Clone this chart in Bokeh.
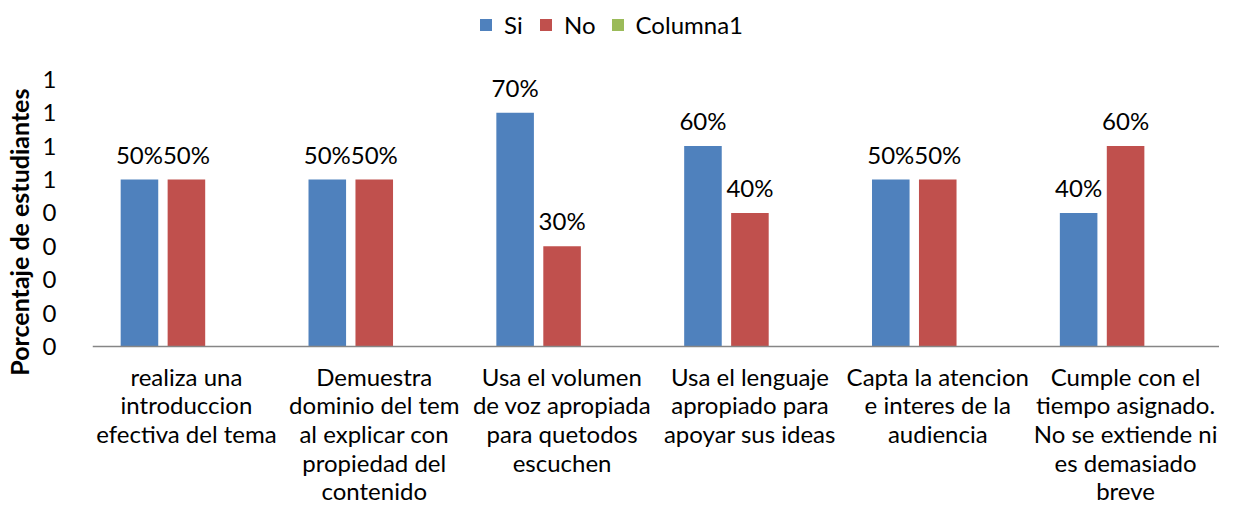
from bokeh.plotting import figure
from bokeh.models import ColumnDataSource, FactorRange, Legend, LegendItem, FixedTicker, Span, Title
from bokeh.transform import dodge
from bokeh.core.properties import value
from bokeh.embed import file_html
from bokeh.resources import INLINE

categories = [
    "realiza una\nintroduccion\nefectiva del tema",
    "Demuestra\ndominio del tem\nal explicar con\npropiedad del\ncontenido",
    "Usa el volumen\nde voz apropiada\npara quetodos\nescuchen",
    "Usa el lenguaje\napropiado para\napoyar sus ideas",
    "Capta la atencion\ne interes de la\naudiencia",
    "Cumple con el\ntiempo asignado.\nNo se extiende ni\nes demasiado\nbreve",
]
si = [0.5, 0.5, 0.7, 0.6, 0.5, 0.4]
no = [0.5, 0.5, 0.3, 0.4, 0.5, 0.6]
columna1 = [float("nan")] * 6
si_labels = ["50%", "50%", "70%", "60%", "50%", "40%"]
no_labels = ["50%", "50%", "30%", "40%", "50%", "60%"]
y_ticks = [0.0, 0.1, 0.2, 0.3, 0.4, 0.5, 0.6, 0.7, 0.8]
y_tick_labels = ["0", "0", "0", "0", "0", "1", "1", "1", "1"]
zero_base = [0.0] * 6

FONT = "Lato"
BLUE = "#4F81BD"
RED = "#C0504D"
GREEN = "#9BBB59"

src = ColumnDataSource(dict(cat=categories, si=si, no=no, col1=columna1,
                            si_lab=si_labels, no_lab=no_labels, base=zero_base))

p = figure(x_range=FactorRange(*categories), y_range=(-0.473, 1.036),
           width=1219, height=504, output_backend="svg", toolbar_location=None,
           min_border_left=87, min_border_right=0, min_border_top=0, min_border_bottom=0)
p.outline_line_color = None
p.xgrid.grid_line_color = None
p.ygrid.grid_line_color = None
p.xaxis.visible = False

r_si = p.vbar(x=dodge("cat", -0.25, range=p.x_range), top="si", width=0.2, source=src,
              fill_color=BLUE, line_color=None)
r_no = p.vbar(x=dodge("cat", 0.0, range=p.x_range), top="no", width=0.2, source=src,
              fill_color=RED, line_color=None)
r_c1 = p.vbar(x=dodge("cat", 0.25, range=p.x_range), top="col1", width=0.2, source=src,
              fill_color=GREEN, line_color=None)

p.add_layout(Span(location=0, dimension="width", line_color="#868686", line_width=1.5))

for xo, col, lab in [(-0.25, "si", "si_lab"), (0.0, "no", "no_lab")]:
    p.text(x=dodge("cat", xo, range=p.x_range), y=col, text=lab, source=src,
           text_align="center", text_baseline="bottom", y_offset=-11,
           text_font=value(FONT), text_font_size="24px", text_color="#000000")

# category labels (multi-line), below the baseline
p.text(x="cat", y="base", text="cat", source=src,
       text_align="center", text_baseline="top", y_offset=15,
       text_font=value(FONT), text_font_size="24px", text_color="#000000",
       text_line_height=0.99)

# y axis
ya = p.yaxis[0]
ya.ticker = FixedTicker(ticks=y_ticks)
ya.major_label_overrides = {t: l for t, l in zip(y_ticks, y_tick_labels)}
ya.axis_line_color = None
ya.major_tick_line_color = None
ya.minor_tick_line_color = None
ya.major_label_text_font = FONT
ya.major_label_text_font_size = "24px"
ya.major_label_text_color = "#000000"
ya.major_label_standoff = 30

ytitle = Title(text="Porcentaje de  estudiantes", align="right", offset=82, standoff=7,
               vertical_align="top",
               text_font=FONT, text_font_size="25px", text_font_style="bold",
               text_color="#000000")
p.add_layout(ytitle, "left")

legend = Legend(items=[LegendItem(label="Si", renderers=[r_si]),
                       LegendItem(label="No", renderers=[r_no]),
                       LegendItem(label="Columna1", renderers=[r_c1])],
                orientation="horizontal", location=(386, 465),
                background_fill_alpha=0, border_line_color=None,
                padding=0, margin=0, spacing=14, label_standoff=11,
                glyph_width=15, glyph_height=15,
                label_text_font=FONT, label_text_font_size="24px", label_text_color="#000000")
p.add_layout(legend, "center")

open("out.html", "w").write(file_html(p, INLINE))
